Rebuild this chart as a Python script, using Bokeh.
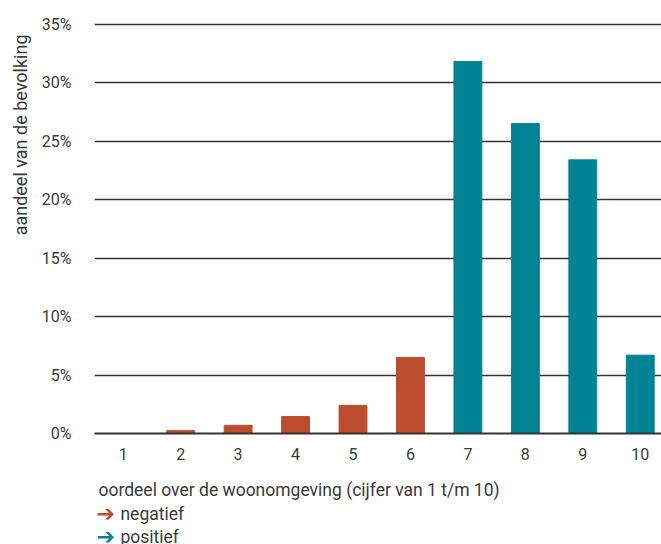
from bokeh.plotting import figure
from bokeh.layouts import column
from bokeh.models import ColumnDataSource, FixedTicker, Title, CustomJSTickFormatter
from bokeh.core.properties import value
from bokeh.embed import file_html
from bokeh.resources import INLINE

# Share of the population per rating of the living environment
scores = [1, 2, 3, 4, 5, 6, 7, 8, 9, 10]
shares = [0.0, 0.25, 0.7, 1.45, 2.4, 6.5, 31.8, 26.5, 23.4, 6.7]
groups = ["negatief"] * 6 + ["positief"] * 4
group_colors = {"negatief": "#BD4D2F", "positief": "#008395"}
y_ticks = [0, 5, 10, 15, 20, 25, 30, 35]

FONT = "Roboto"
TEXT = "#3a3a3a"
W = 661
LEFT = 93
CHART_H, KEY_H = 472, 72

src = ColumnDataSource(dict(
    x=scores,
    top=shares,
    color=[group_colors[g] for g in groups],
))

# the last category runs slightly past the right edge
p = figure(
    width=W, height=CHART_H,
    x_range=(0.5, 10.37), y_range=(0, 36),
    output_backend="svg", toolbar_location=None,
    min_border_left=LEFT, min_border_right=0,
    min_border_top=12, min_border_bottom=39,
)
p.outline_line_color = None
p.background_fill_color = "white"
p.border_fill_color = "white"

p.vbar(x="x", top="top", width=0.485, color="color", source=src)

# y axis: percentages, no line or ticks
p.yaxis.ticker = FixedTicker(ticks=y_ticks)
p.yaxis.formatter = CustomJSTickFormatter(code="return tick + '%';")
p.yaxis.axis_line_color = None
p.yaxis.major_tick_line_color = None
p.yaxis.minor_tick_line_color = None
p.yaxis.major_label_standoff = 17
p.yaxis.major_label_text_font = FONT
p.yaxis.major_label_text_font_size = "16px"
p.yaxis.major_label_text_color = TEXT

# x axis: ratings 1..10
p.xaxis.ticker = FixedTicker(ticks=scores)
p.xaxis.axis_line_color = "#333333"
p.xaxis.axis_line_width = 2
p.xaxis.major_tick_line_color = None
p.xaxis.minor_tick_line_color = None
p.xaxis.major_label_standoff = 8
p.xaxis.major_label_text_font = FONT
p.xaxis.major_label_text_font_size = "16px"
p.xaxis.major_label_text_color = TEXT

p.xgrid.grid_line_color = None
p.ygrid.grid_line_color = "#333333"
p.ygrid.grid_line_width = 1.5
p.ygrid.level = "underlay"

# vertical axis title, aligned to the top of the chart
p.add_layout(Title(text="aandeel van de bevolking", align="right",
                   text_font=FONT, text_font_size="18px",
                   text_font_style="normal", text_color=TEXT,
                   offset=22, standoff=15), "left")

# caption and colour key underneath; the frame spans the same pixels as the chart's
key = figure(
    width=W, height=KEY_H,
    x_range=(LEFT, W), y_range=(0, KEY_H),
    x_axis_type=None, y_axis_type=None,
    output_backend="svg", toolbar_location=None,
    min_border_left=LEFT, min_border_right=0,
    min_border_top=0, min_border_bottom=0,
)
key.outline_line_color = None
key.xgrid.grid_line_color = None
key.ygrid.grid_line_color = None
key.border_fill_color = "white"

text_style = dict(text_font=value(FONT), text_font_size="17.5px",
                  text_color=TEXT, text_baseline="middle", text_align="left")
arrow_style = dict(text_font=value("DejaVu Sans"), text_font_size="22px",
                   text_baseline="middle", text_align="left")

key.text(x=[97], y=[55], text=["oordeel over de woonomgeving (cijfer van 1 t/m 10)"], **text_style)
key.text(x=[95, 95], y=[31, 8], text=["\u2794", "\u2794"],
         text_color=[group_colors["negatief"], group_colors["positief"]], **arrow_style)
key.text(x=[119, 119], y=[31, 8], text=["negatief", "positief"], **text_style)

open("out.html", "w").write(file_html(column(p, key, spacing=0), INLINE))
